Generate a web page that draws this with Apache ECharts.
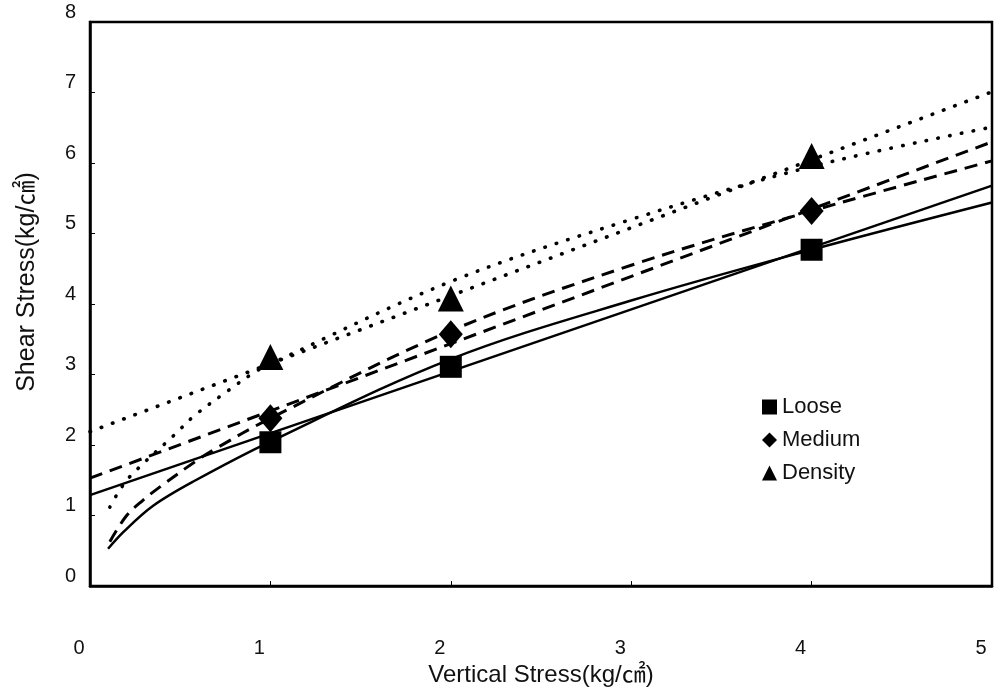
<!DOCTYPE html>
<html>
<head>
<meta charset="utf-8">
<script src="https://cdn.jsdelivr.net/npm/echarts@6/dist/echarts.min.js"></script>
<style>
  html, body { margin: 0; padding: 0; background: #fff; }
  #chart { width: 1000px; height: 692px; }
</style>
</head>
<body>
<div id="chart"></div>
<script>
// ---- data ----
const xTicks = [0, 1, 2, 3, 4, 5];
const yTicks = [0, 1, 2, 3, 4, 5, 6, 7, 8];
const seriesNames = ['Loose', 'Medium', 'Density'];

const markerX = [1, 2, 4];
const looseMarks = [2.04, 3.11, 4.77];
const mediumMarks = [2.38, 3.57, 5.32];
const densityMarks = [3.25, 4.08, 6.10];

// straight fit lines
const looseLineX = [0, 5];
const looseLineY = [1.29, 5.68];
const mediumLineX = [0, 5];
const mediumLineY = [1.53, 6.30];
const densityLineX = [0, 5];
const densityLineY = [2.19, 7.01];

// curved fit lines
const looseCurveX = [0.10, 0.19, 0.35, 0.57, 1, 2, 3, 4, 5];
const looseCurveY = [0.53, 0.78, 1.14, 1.48, 2.05, 3.22, 4.05, 4.77, 5.44];
const mediumCurveX = [0.11, 0.20, 0.29, 0.40, 0.58, 0.69, 1, 2, 3, 4, 5];
const mediumCurveY = [0.63, 0.99, 1.21, 1.43, 1.76, 1.94, 2.38, 3.62, 4.55, 5.32, 6.03];
const densityCurveX = [0.11, 0.15, 0.22, 0.47, 0.58, 0.77, 0.91, 1, 2, 3, 4, 5];
const densityCurveY = [1.12, 1.30, 1.55, 2.15, 2.42, 2.78, 3.03, 3.15, 4.32, 5.20, 5.95, 6.51];

const xTitle = 'Vertical Stress(kg/㎠)';
const yTitle = 'Shear Stress(kg/㎠)';

// ---- build ----
const zip = (xs, ys) => xs.map((x, i) => [x, ys[i]]);
const FONT = '"Liberation Sans", Arial, "Noto Sans CJK KR", sans-serif';

const solid = { color: '#000', width: 2.5, type: 'solid' };
const dashed = { color: '#000', width: 3, type: [13, 8] };
const dotted = { color: '#000', width: 3.6, type: [0.5, 11.5], cap: 'round' };

function lineSeries(data, style, smooth) {
  return {
    type: 'line', data: data, showSymbol: false, symbol: 'none',
    smooth: smooth ? 0.35 : false, lineStyle: style, silent: true, z: 2,
    legendHoverLink: false
  };
}

const chart = echarts.init(document.getElementById('chart'), null, { renderer: 'canvas' });
chart.setOption({
  animation: false,
  backgroundColor: '#fff',
  color: ['#000', '#000', '#000'],
  textStyle: { fontFamily: FONT },
  grid: { left: 90, top: 22, right: 8, bottom: 104, show: true, borderColor: '#000', borderWidth: 2.5, backgroundColor: 'transparent' },
  legend: {
    data: seriesNames,
    orient: 'vertical', left: 757, top: 391, itemGap: 11,
    itemWidth: 15, itemHeight: 15,
    textStyle: { fontSize: 22, color: '#111', fontFamily: FONT }
  },
  xAxis: {
    type: 'value', min: xTicks[0], max: xTicks[xTicks.length - 1], interval: 1,
    name: xTitle, nameLocation: 'middle', nameGap: 70,
    nameTextStyle: { fontSize: 24, color: '#111', fontFamily: FONT },
    axisLine: { show: true, lineStyle: { color: '#000', width: 2.5 } },
    axisTick: { show: true, inside: true, length: 5, lineStyle: { color: '#000', width: 1 } },
    axisLabel: { fontSize: 20, color: '#111', margin: 52, padding: [0, 22, 0, 0], fontFamily: FONT },
    splitLine: { show: false }
  },
  yAxis: {
    type: 'value', min: yTicks[0], max: yTicks[yTicks.length - 1], interval: 1,
    name: yTitle, nameLocation: 'middle', nameGap: 50,
    nameTextStyle: { fontSize: 25, color: '#111', fontFamily: FONT, padding: [0, 0, 0, 44] },
    axisLine: { show: true, lineStyle: { color: '#000', width: 2.5 } },
    axisTick: { show: true, inside: true, length: 5, lineStyle: { color: '#000', width: 1 } },
    axisLabel: { fontSize: 20, color: '#111', margin: 14, verticalAlign: 'bottom', lineHeight: 20, fontFamily: FONT },
    splitLine: { show: false }
  },
  series: [
    lineSeries(zip(looseLineX, looseLineY), solid, false),
    lineSeries(zip(looseCurveX, looseCurveY), solid, true),
    lineSeries(zip(mediumLineX, mediumLineY), dashed, false),
    lineSeries(zip(mediumCurveX, mediumCurveY), dashed, true),
    lineSeries(zip(densityLineX, densityLineY), dotted, false),
    lineSeries(zip(densityCurveX, densityCurveY), dotted, true),
    { name: 'Loose', type: 'scatter', symbol: 'rect', symbolSize: 22, data: zip(markerX, looseMarks), itemStyle: { color: '#000', opacity: 1 }, z: 5 },
    { name: 'Medium', type: 'scatter', symbol: 'diamond', symbolSize: [24, 28], data: zip(markerX, mediumMarks), itemStyle: { color: '#000', opacity: 1 }, z: 5 },
    { name: 'Density', type: 'scatter', symbol: 'triangle', symbolSize: [26, 26], data: zip(markerX, densityMarks), itemStyle: { color: '#000', opacity: 1 }, z: 5 }
  ]
});
</script>
</body>
</html>
